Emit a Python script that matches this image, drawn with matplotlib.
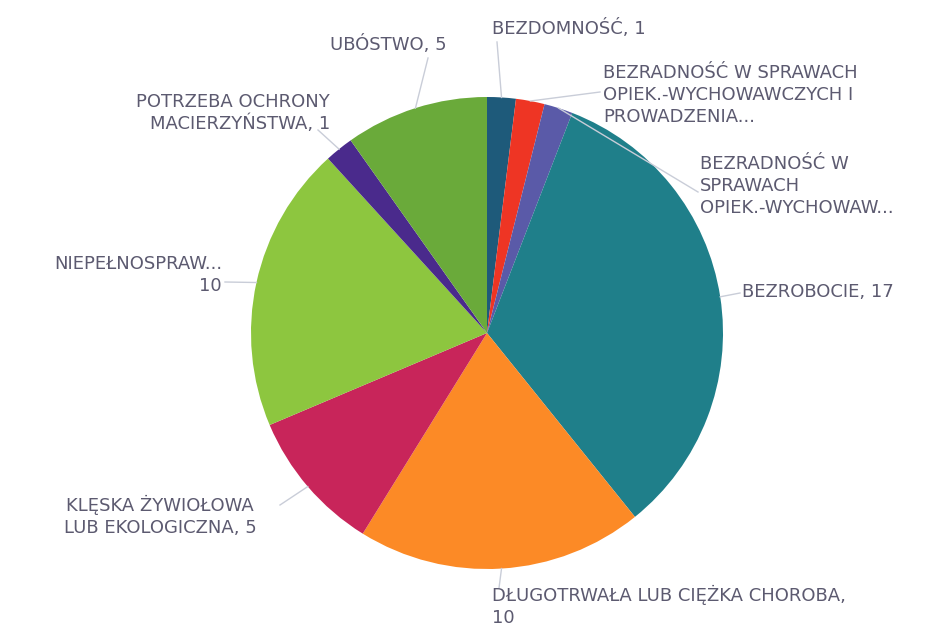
import matplotlib.pyplot as plt
import numpy as np

labels = ["BEZDOMNOŚĆ, 1",
          "BEZRADNOŚĆ W SPRAWACH\nOPIEK.-WYCHOWAWCZYCH I\nPROWADZENIA...",
          "BEZRADNOŚĆ W\nSPRAWACH\nOPIEK.-WYCHOWAW...",
          "BEZROBOCIE, 17",
          "DŁUGOTRWAŁA LUB CIĘŻKA CHOROBA,\n10",
          "KLĘSKA ŻYWIOŁOWA\nLUB EKOLOGICZNA, 5",
          "NIEPEŁNOSPRAW...\n10",
          "POTRZEBA OCHRONY\nMACIERZYŃSTWA, 1",
          "UBÓSTWO, 5"]
values = [1, 1, 1, 17, 10, 5, 10, 1, 5]
colors = ["#1e5a7a", "#ee3524", "#5a5aa8", "#1f7f8a", "#fc8a26",
          "#c8255a", "#8dc63f", "#4a2a8c", "#6aaa3a"]

# label placement in image pixels (x, y of anchor), alignment, leader end
W, H = 943, 629
lab_pos = [(492, 28), (603, 95), (700, 186), (742, 292), (492, 606),
           (160, 516), (222, 275), (330, 113), (330, 45)]
lab_ha = ["left", "left", "left", "left", "left", "center", "right", "right", "left"]
lead_end = [(497, 42), (600, 92), (698, 192), (740, 293), (499, 588),
            (280, 505), (225, 282), (318, 130), (428, 58)]

fig = plt.figure(figsize=(9.43, 6.29), dpi=100)
ax = fig.add_axes([0, 0, 1, 1])

cx, cy, r = 487, H - 333, 236
wedges, _ = ax.pie(values, colors=colors, startangle=90, counterclock=False,
                   center=(cx, cy), radius=r, frame=True,
                   wedgeprops=dict(linewidth=0))
ax.set_xlim(0, W)
ax.set_ylim(0, H)
ax.set_aspect("equal")
ax.axis("off")

txt_col = "#5c5a70"
for w, lab, (lx, ly), ha, (ex, ey) in zip(wedges, labels, lab_pos, lab_ha, lead_end):
    ang = np.deg2rad((w.theta1 + w.theta2) / 2)
    sx, sy = cx + r * np.cos(ang), cy + r * np.sin(ang)
    ax.plot([sx, ex], [sy, H - ey], color="#c9cdd8", lw=1)
    ax.text(lx, H - ly, lab, ha=ha, va="center", fontsize=13, color=txt_col,
            family="DejaVu Sans", multialignment=ha, linespacing=1.3)

fig.savefig("out.png", dpi=100)
